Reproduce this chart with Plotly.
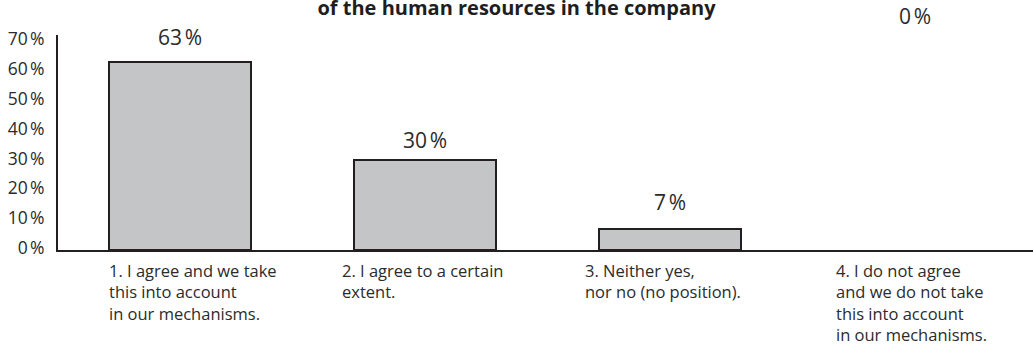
import plotly.graph_objects as go

# Survey answers and their shares (%)
categories = [
    "1. I agree and we take<br>this into account<br>in our mechanisms.",
    "2. I agree to a certain<br>extent.",
    "3. Neither yes,<br>nor no (no position).",
    "4. I do not agree<br>and we do not take<br>this into account<br>in our mechanisms.",
]
shares = [63, 30, 7, 0]

y_tick_values = [0, 10, 20, 30, 40, 50, 60, 70]
y_tick_labels = [f"{v}\u202f%" for v in y_tick_values]

title_text = "<b>of the human resources in the company</b>"

FONT = "Open Sans"
TEXT = "#2b2b2b"
EDGE = "#231f20"
FILL = "#c4c5c7"

# pixel lifts of the value labels above each bar top, and left offsets of
# the answer texts relative to each bar centre
value_lift = [25, 20, 27, 234]
answer_offset = [-73, -85, -87, -81]

xs = list(range(len(shares)))

fig = go.Figure(
    go.Bar(
        x=xs,
        y=shares,
        width=0.58,
        marker=dict(
            color=FILL,
            line=dict(color=EDGE, width=[2 if v > 0 else 0 for v in shares]),
        ),
        hoverinfo="skip",
    )
)

for i, v in enumerate(shares):
    fig.add_annotation(
        x=i, y=v, xref="x", yref="y",
        text=f"{v}\u202f%", showarrow=False,
        yshift=value_lift[i], yanchor="middle",
        font=dict(family=FONT, size=21, color=TEXT),
    )
    fig.add_annotation(
        x=i, y=0, xref="x", yref="paper",
        text=categories[i], showarrow=False,
        xanchor="left", yanchor="top", align="left",
        xshift=answer_offset[i], yshift=-7,
        font=dict(family=FONT, size=16.5, color=TEXT),
    )

fig.update_layout(
    width=1033,
    height=345,
    margin=dict(l=58, r=0, t=35, b=95),
    paper_bgcolor="white",
    plot_bgcolor="white",
    showlegend=False,
    bargap=0,
    title=dict(
        text=title_text, x=0.5, xanchor="center", xref="container",
        y=1 - 8 / 345, yanchor="middle", yref="container",
        font=dict(family=FONT, size=20, color="#1e1e1e"),
    ),
    xaxis=dict(
        range=[-0.5, 3.484],
        showticklabels=False,
        showgrid=False,
        zeroline=False,
        showline=True,
        linecolor=EDGE,
        linewidth=2,
        ticks="",
        fixedrange=True,
    ),
    yaxis=dict(
        range=[0, 72],
        tickvals=y_tick_values,
        ticktext=y_tick_labels,
        showgrid=False,
        zeroline=False,
        showline=True,
        linecolor=EDGE,
        linewidth=2,
        ticks="",
        ticklabelstandoff=8,
        ticklabelshift=-2,
        tickfont=dict(family=FONT, size=17.5, color=TEXT),
        fixedrange=True,
    ),
)

fig.write_html("out.html", config={"displayModeBar": False})
